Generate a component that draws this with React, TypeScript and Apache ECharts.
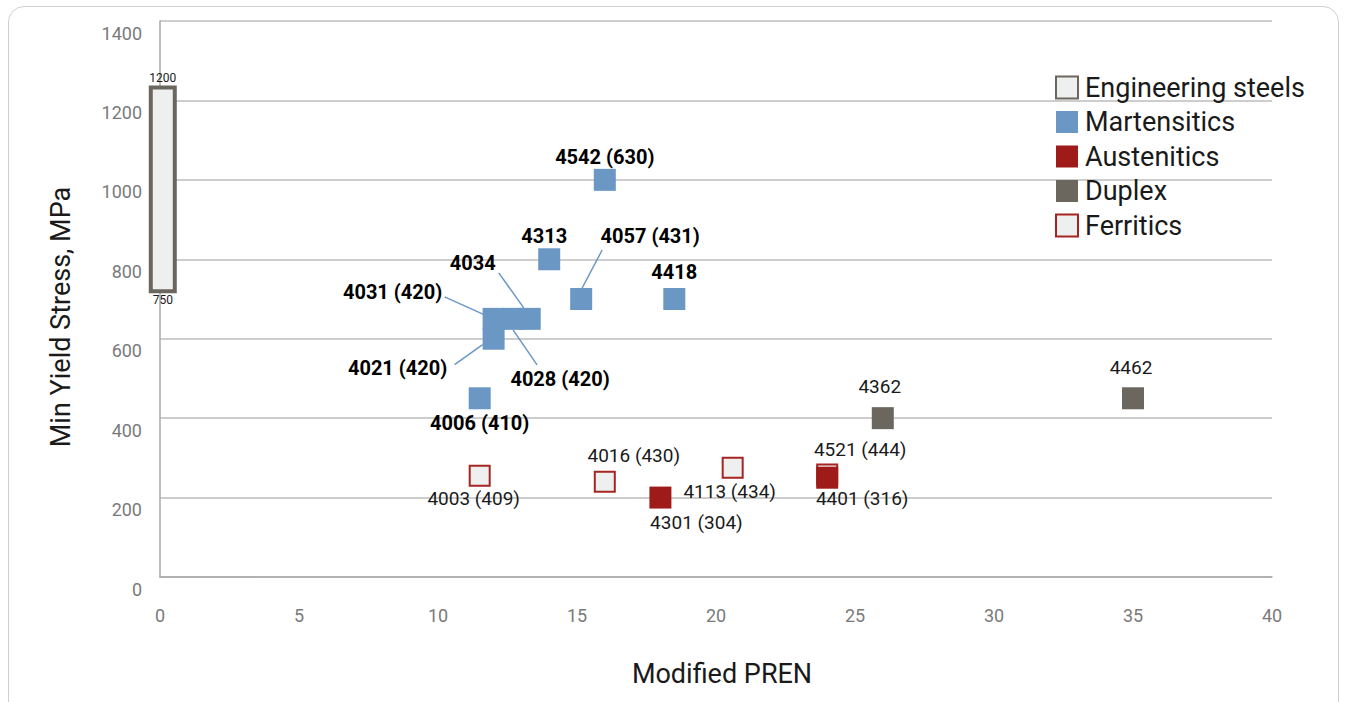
import React, { useEffect, useRef } from "react";
import * as echarts from "echarts";

// ---- data ----
const engineeringRange = [[0.1, 750, 1200]]; // [PREN, min, max]

const martNames = ["4542 (630)", "4313", "4057 (431)", "4418", "4034", "4031 (420)", "4028 (420)", "4021 (420)", "4006 (410)"];
const martPREN = [16, 14, 15.15, 18.5, 13.3, 12.0, 12.7, 12, 11.5];
const martYield = [1000, 800, 700, 700, 650, 650, 650, 600, 450];

const austNames = ["4301 (304)", "4401 (316)"];
const austPREN = [18, 24];
const austYield = [200, 250];

const duplexNames = ["4362", "4462"];
const duplexPREN = [26, 35];
const duplexYield = [400, 450];

const ferrNames = ["4003 (409)", "4016 (430)", "4113 (434)", "4521 (444)"];
const ferrPREN = [11.5, 16, 20.6, 24];
const ferrYield = [255, 240, 275, 258];

const legendNames = ["Engineering steels", "Martensitics", "Austenitics", "Duplex", "Ferritics"];

// ---- label placement (pixel offsets of label centre from symbol centre) ----
const martLabelOffsets: Record<string, [number, number]> = {
  "4542 (630)": [0, -23],
  "4313": [-5, -23],
  "4057 (431)": [69, -63],
  "4418": [0, -27],
  "4034": [-57, -56],
  "4031 (420)": [-101, -27],
  "4028 (420)": [47, 60],
  "4021 (420)": [-96, 29],
  "4006 (410)": [0, 25],
};
// leader lines: pixel offsets [startX, startY, endX, endY] relative to symbol centre
const martLeaders: Record<string, [number, number, number, number]> = {
  "4057 (431)": [1, -11, 21, -49],
  "4034": [-6, -11, -31, -46],
  "4031 (420)": [-9, -4, -49, -22],
  "4028 (420)": [0, 11, 24, 46],
  "4021 (420)": [-11, 6, -39, 26],
};
const austLabelOffsets: Record<string, [number, number]> = {
  "4301 (304)": [36, 25],
  "4401 (316)": [35, 21],
};
const duplexLabelOffsets: Record<string, [number, number]> = {
  "4362": [-3, -32],
  "4462": [-2, -31],
};
const ferrLabelOffsets: Record<string, [number, number]> = {
  "4003 (409)": [-6, 23],
  "4016 (430)": [29, -26],
  "4113 (434)": [-3, 24],
  "4521 (444)": [33, -25],
};

const BLUE = "#6a97c4";
const RED = "#9e1b19";
const GREY = "#6b675f";
const LIGHT = "#eef0ef";
const FONT = "Roboto, 'Noto Sans', sans-serif";

function buildData(names: string[], xs: number[], ys: number[]) {
  return names.map((n, i) => ({ name: n, value: [xs[i], ys[i]] }));
}

function layoutFor(names: string[], offs: Record<string, [number, number]>) {
  return (p: any) => {
    const o = offs[names[p.dataIndex]];
    return o ? { dx: o[0], dy: o[1] } : {};
  };
}

export default function App() {
  const ref = useRef<HTMLDivElement>(null);
  useEffect(() => {
    if (!ref.current) return;
    const chart = echarts.init(ref.current, undefined, { renderer: "svg" });
    const labelBase = {
      show: true,
      position: "inside",
      formatter: "{b}",
      fontFamily: FONT,
      fontSize: 19,
      color: "#1a1a1a",
    };
    const leaderData = martNames
      .map((n, i) => ({ name: n, value: [martPREN[i], martYield[i]] }))
      .filter((d) => martLeaders[d.name]);
    chart.setOption({
      animation: false,
      textStyle: { fontFamily: FONT },
      grid: { left: 160, right: 74, top: 21, bottom: 125, containLabel: false },
      legend: {
        orient: "vertical",
        left: 1055,
        top: 74,
        padding: 0,
        itemWidth: 22,
        itemHeight: 22,
        itemGap: 7.5,
        icon: "rect",
        data: legendNames,
        textStyle: { fontSize: 27, color: "#1a1a1a", fontFamily: FONT, padding: [0, 0, 0, 2] },
      },
      xAxis: {
        type: "value",
        min: 0,
        max: 40,
        interval: 5,
        name: "Modified PREN",
        nameLocation: "middle",
        nameGap: 83,
        nameTextStyle: { fontSize: 27, color: "#1a1a1a", fontFamily: FONT, padding: [0, 0, 0, 12] },
        axisLine: { show: true, lineStyle: { color: "#a8a8a8", width: 1.5 } },
        axisTick: { show: false },
        axisLabel: { margin: 29, fontSize: 18, color: "#7a7a7a", fontFamily: FONT },
        splitLine: { show: false },
      },
      yAxis: {
        type: "value",
        min: 0,
        max: 1400,
        interval: 200,
        name: "Min Yield Stress, MPa",
        nameLocation: "middle",
        nameGap: 86,
        nameTextStyle: { fontSize: 27, color: "#1a1a1a", fontFamily: FONT, padding: [0, 36, 0, 0] },
        axisLine: { show: true, lineStyle: { color: "#a8a8a8", width: 1.5 } },
        axisTick: { show: false },
        axisLabel: {
          margin: 18,
          fontSize: 18,
          color: "#7a7a7a",
          fontFamily: FONT,
          verticalAlign: "top",
          lineHeight: 24,
          formatter: (v: number) => String(v),
        },
        splitLine: { show: true, lineStyle: { color: "#bdbdbd", width: 1.5 } },
      },
      series: [
        {
          name: "Engineering steels",
          type: "custom",
          z: 2,
          itemStyle: { color: LIGHT, borderColor: GREY, borderWidth: 2 },
          data: engineeringRange,
          renderItem: (params: any, api: any) => {
            const x = api.value(0);
            const lo = api.value(1);
            const hi = api.value(2);
            const top = api.coord([x, hi]);
            const bot = api.coord([x, lo]);
            return {
              type: "group",
              children: [
                {
                  type: "rect",
                  shape: { x: top[0] - 12, y: top[1] - 13, width: 24, height: bot[1] - top[1] + 25 },
                  style: { fill: LIGHT, stroke: GREY, lineWidth: 4 },
                },
                {
                  type: "text",
                  style: {
                    text: String(hi), x: top[0], y: top[1] - 16, align: "center", verticalAlign: "bottom",
                    fontSize: 12, fill: "#1a1a1a", fontFamily: FONT,
                  },
                },
                {
                  type: "text",
                  style: {
                    text: String(lo), x: bot[0], y: bot[1] + 15, align: "center", verticalAlign: "top",
                    fontSize: 12, fill: "#1a1a1a", fontFamily: FONT,
                  },
                },
              ],
            };
          },
        },
        {
          name: "leaders",
          type: "custom",
          z: 1,
          silent: true,
          data: leaderData,
          renderItem: (params: any, api: any) => {
            const p = api.coord([api.value(0), api.value(1)]);
            const o = martLeaders[leaderData[params.dataIndex].name];
            return {
              type: "line",
              shape: { x1: p[0] + o[0], y1: p[1] + o[1], x2: p[0] + o[2], y2: p[1] + o[3] },
              style: { stroke: BLUE, lineWidth: 1.5 },
            };
          },
        },
        {
          name: "Martensitics",
          type: "scatter",
          symbol: "rect",
          symbolSize: 22,
          z: 3,
          itemStyle: { color: BLUE, opacity: 1 },
          data: buildData(martNames, martPREN, martYield),
          label: { ...labelBase, fontSize: 20, fontWeight: "bold", color: "#000" },
          labelLayout: layoutFor(martNames, martLabelOffsets),
        },
        {
          name: "Austenitics",
          type: "scatter",
          symbol: "rect",
          symbolSize: 22,
          z: 4,
          itemStyle: { color: RED, opacity: 1 },
          data: buildData(austNames, austPREN, austYield),
          label: labelBase,
          labelLayout: layoutFor(austNames, austLabelOffsets),
        },
        {
          name: "Duplex",
          type: "scatter",
          symbol: "rect",
          symbolSize: 22,
          z: 3,
          itemStyle: { color: GREY, opacity: 1 },
          data: buildData(duplexNames, duplexPREN, duplexYield),
          label: labelBase,
          labelLayout: layoutFor(duplexNames, duplexLabelOffsets),
        },
        {
          name: "Ferritics",
          type: "scatter",
          symbol: "rect",
          symbolSize: 20,
          z: 3,
          itemStyle: { color: LIGHT, borderColor: "#a52522", borderWidth: 2, opacity: 1 },
          data: buildData(ferrNames, ferrPREN, ferrYield),
          label: labelBase,
          labelLayout: layoutFor(ferrNames, ferrLabelOffsets),
        },
      ],
    });
    return () => chart.dispose();
  }, []);

  return (
    <div>
      <div
        style={{
          position: "fixed",
          left: 8,
          top: 6,
          width: 1331,
          height: 720,
          border: "1px solid #cfcfcf",
          borderRadius: 16,
          boxSizing: "border-box",
          background: "#fff",
        }}
      />
      <div ref={ref} style={{ position: "fixed", left: 0, top: 0, width: 1346, height: 702 }} />
    </div>
  );
}
